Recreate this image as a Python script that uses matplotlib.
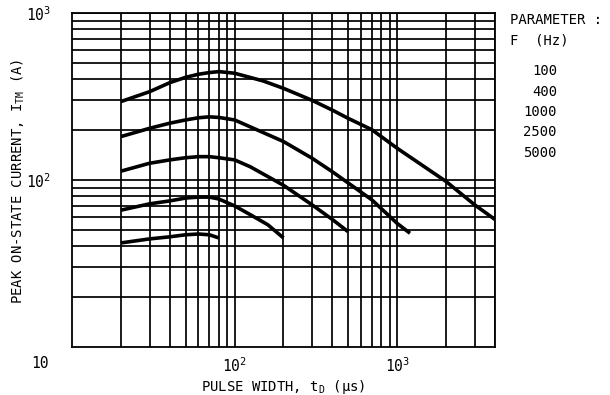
import matplotlib
matplotlib.use("Agg")
import matplotlib.pyplot as plt
from matplotlib.ticker import LogLocator, NullFormatter, FixedLocator, FixedFormatter

plt.rcParams['font.family'] = ['DejaVu Sans Mono', 'DejaVu Sans']

# pulse width (us) vs peak on-state current (A), one curve per frequency
pulse_100 = [20, 30, 40, 50, 60, 70, 80, 100, 150, 200, 300, 400, 500, 700, 1000, 2000, 3000, 4000]
amps_100 = [295, 338, 383, 412, 430, 440, 446, 436, 392, 354, 300, 262, 234, 200, 155, 98, 71, 58]

pulse_400 = [20, 30, 40, 50, 60, 70, 80, 100, 200, 300, 400, 500, 700, 1000, 1200]
amps_400 = [182, 204, 219, 229, 236, 239, 237, 229, 170, 135, 112, 96, 76, 55, 48]

pulse_1000 = [20, 30, 40, 50, 60, 70, 80, 100, 125, 200, 300, 400, 500]
amps_1000 = [113, 126, 132, 136, 138, 138, 136, 132, 120, 93, 71, 58, 49]

pulse_2500 = [20, 30, 40, 50, 60, 70, 80, 100, 125, 160, 200]
amps_2500 = [66, 72, 75, 78, 79, 79, 77, 70, 62, 54, 45]

pulse_5000 = [20, 30, 40, 50, 60, 70, 80]
amps_5000 = [42, 44.4, 45.7, 47, 47.5, 47, 45]

freq_labels = ["100", "400", "1000", "2500", "5000"]

fig = plt.figure(figsize=(6.1, 3.95), dpi=100)
fig.subplots_adjust(left=0.118, right=0.8115, bottom=0.1215, top=0.967)
ax = fig.add_subplot(111)

ax.set_xscale('log')
ax.set_yscale('log')
ax.set_xlim(10, 4000)
ax.set_ylim(10, 1000)

# grid like the printed log paper
ax.xaxis.set_minor_locator(LogLocator(base=10, subs=range(2, 10)))
ax.yaxis.set_minor_locator(LogLocator(base=10, subs=range(2, 10)))
ax.xaxis.set_minor_formatter(NullFormatter())
ax.yaxis.set_minor_formatter(NullFormatter())
ax.grid(which='both', color='black', linewidth=1.25)
ax.set_axisbelow(True)

for x, y in [(pulse_100, amps_100), (pulse_400, amps_400), (pulse_1000, amps_1000),
             (pulse_2500, amps_2500), (pulse_5000, amps_5000)]:
    ax.plot(x, y, color='black', linewidth=2.6, solid_capstyle='butt', solid_joinstyle='round')

for s in ax.spines.values():
    s.set_linewidth(1.3)

ax.xaxis.set_major_locator(FixedLocator([100, 1000]))
ax.xaxis.set_major_formatter(FixedFormatter([r'$\mathregular{10^2}$', r'$\mathregular{10^3}$']))
ax.yaxis.set_major_locator(FixedLocator([100, 1000]))
ax.yaxis.set_major_formatter(FixedFormatter([r'$\mathregular{10^2}$', r'$\mathregular{10^3}$']))
ax.tick_params(which='both', length=0, labelsize=10.5)
ax.tick_params(axis='x', pad=7)
ax.tick_params(axis='y', pad=15)

# corner label shared by both axes
fig.text(40 / 610, 1 - 363 / 395, "10", ha='center', va='center', fontsize=10.5)

ax.set_xlabel(r'PULSE WIDTH, $\mathregular{t_D}$ ($\mathregular{\mu}$s)', fontsize=10, labelpad=2)
fig.text(18 / 610, 1 - 181 / 395, r'PEAK ON-STATE CURRENT, $\mathregular{I_{TM}}$ (A)',
         rotation=90, ha='center', va='center', fontsize=10)

# parameter block on the right
fig.text(510 / 610, 1 - 20 / 395, "PARAMETER :", ha='left', va='center', fontsize=10)
fig.text(510 / 610, 1 - 40 / 395, "F  (Hz)", ha='left', va='center', fontsize=10)
for i, lab in enumerate(freq_labels):
    fig.text(557 / 610, 1 - (71 + 20.5 * i) / 395, lab, ha='right', va='center', fontsize=10)

fig.savefig("out.png", dpi=100)
